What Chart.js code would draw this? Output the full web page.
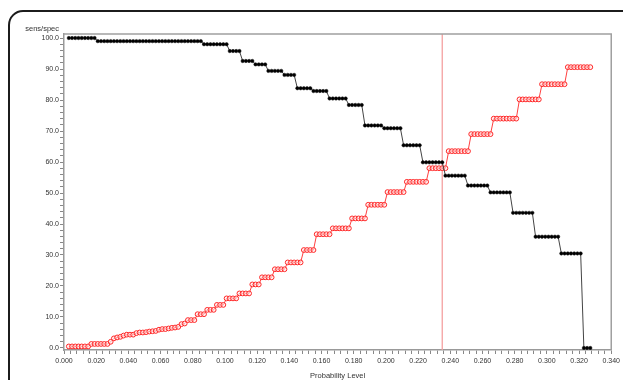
<!DOCTYPE html>
<html>
<head>
<meta charset="utf-8">
<script src="https://cdn.jsdelivr.net/npm/chart.js@4.4.0/dist/chart.umd.min.js"></script>
<style>
  html, body { margin: 0; padding: 0; background: #fff; }
  #wrap { position: relative; width: 623px; height: 380px; overflow: hidden; }
  #frame { position: absolute; left: 8px; top: 10px; width: 640px; height: 420px;
           border: 2px solid #1c1c1c; border-radius: 15px; pointer-events: none; }
  canvas { position: absolute; left: 0; top: 0; }
</style>
</head>
<body>
<div id="wrap">
  <canvas id="chart-area" width="623" height="380"></canvas>
  <div id="frame"></div>
</div>
<script>
// probability levels (x) shared by both curves
var probLevels = [
  0.003,0.005,0.007,0.009,0.011,0.013,0.015,0.017,0.019,0.021,
  0.023,0.025,0.027,0.029,0.031,0.033,0.035,0.037,0.039,0.041,
  0.043,0.045,0.047,0.049,0.051,0.053,0.055,0.057,0.059,0.061,
  0.063,0.065,0.067,0.069,0.071,0.073,0.075,0.077,0.079,0.081,
  0.083,0.085,0.087,0.089,0.091,0.093,0.095,0.097,0.099,0.101,
  0.103,0.105,0.107,0.109,0.111,0.113,0.115,0.117,0.119,0.121,
  0.123,0.125,0.127,0.129,0.131,0.133,0.135,0.137,0.139,0.141,
  0.143,0.145,0.147,0.149,0.151,0.153,0.155,0.157,0.159,0.161,
  0.163,0.165,0.167,0.169,0.171,0.173,0.175,0.177,0.179,0.181,
  0.183,0.185,0.187,0.189,0.191,0.193,0.195,0.197,0.199,0.201,
  0.203,0.205,0.207,0.209,0.211,0.213,0.215,0.217,0.219,0.221,
  0.223,0.225,0.227,0.229,0.231,0.233,0.235,0.237,0.239,0.241,
  0.243,0.245,0.247,0.249,0.251,0.253,0.255,0.257,0.259,0.261,
  0.263,0.265,0.267,0.269,0.271,0.273,0.275,0.277,0.279,0.281,
  0.283,0.285,0.287,0.289,0.291,0.293,0.295,0.297,0.299,0.301,
  0.303,0.305,0.307,0.309,0.311,0.313,0.315,0.317,0.319,0.321,
  0.323,0.325,0.327
];

// black curve
var sensitivity = [
  100,100,100,100,100,100,100,100,100,99,
  99,99,99,99,99,99,99,99,99,99,
  99,99,99,99,99,99,99,99,99,99,
  99,99,99,99,99,99,99,99,99,99,
  99,99,98,98,98,98,98,98,98,98,
  95.8,95.8,95.8,95.8,92.6,92.6,92.6,92.6,91.5,91.5,
  91.5,91.5,89.4,89.4,89.4,89.4,89.4,88.1,88.1,88.1,
  88.1,83.8,83.8,83.8,83.8,83.8,82.9,82.9,82.9,82.9,
  82.9,80.5,80.5,80.5,80.5,80.5,80.5,78.4,78.4,78.4,
  78.4,78.4,71.8,71.8,71.8,71.8,71.8,71.8,70.9,70.9,
  70.9,70.9,70.9,70.9,65.4,65.4,65.4,65.4,65.4,65.4,
  59.9,59.9,59.9,59.9,59.9,59.9,59.9,55.6,55.6,55.6,
  55.6,55.6,55.6,55.6,52.4,52.4,52.4,52.4,52.4,52.4,
  52.4,50.2,50.2,50.2,50.2,50.2,50.2,50.2,43.6,43.6,
  43.6,43.6,43.6,43.6,43.6,35.9,35.9,35.9,35.9,35.9,
  35.9,35.9,35.9,30.5,30.5,30.5,30.5,30.5,30.5,30.5,
  0,0,0
];

// red curve
var specificity = [
  0.5,0.5,0.5,0.5,0.5,0.5,0.5,1.3,1.3,1.3,
  1.3,1.3,1.3,2.0,3.1,3.4,3.6,4.0,4.3,4.3,
  4.3,4.8,5.0,5.0,5.1,5.3,5.4,5.5,5.9,6.1,
  6.1,6.3,6.5,6.6,6.8,7.7,7.9,9.0,9.0,9.0,
  10.9,10.9,10.9,12.3,12.3,12.3,13.9,13.9,13.9,16.0,
  16.0,16.0,16.0,17.6,17.6,17.6,17.6,20.5,20.5,20.5,
  22.8,22.8,22.8,22.8,25.4,25.4,25.4,25.4,27.6,27.6,
  27.6,27.6,27.6,31.6,31.6,31.6,31.6,36.7,36.7,36.7,
  36.7,36.7,38.6,38.6,38.6,38.6,38.6,38.6,41.8,41.8,
  41.8,41.8,41.8,46.2,46.2,46.2,46.2,46.2,46.2,50.3,
  50.3,50.3,50.3,50.3,50.3,53.6,53.6,53.6,53.6,53.6,
  53.6,53.6,58.0,58.0,58.0,58.0,58.0,58.0,63.5,63.5,
  63.5,63.5,63.5,63.5,63.5,69.0,69.0,69.0,69.0,69.0,
  69.0,69.0,74.0,74.0,74.0,74.0,74.0,74.0,74.0,74.0,
  80.2,80.2,80.2,80.2,80.2,80.2,80.2,85.1,85.1,85.1,
  85.1,85.1,85.1,85.1,85.1,90.6,90.6,90.6,90.6,90.6,
  90.6,90.6,90.6
];

var cutoff = 0.235;

var xTickLabels = ['0.000','0.020','0.040','0.060','0.080','0.100','0.120','0.140','0.160',
  '0.180','0.200','0.220','0.240','0.260','0.280','0.300','0.320','0.340'];
var yTickLabels = ['0.0','10.0','20.0','30.0','40.0','50.0','60.0','70.0','80.0','90.0','100.0'];

var yMin = -0.65, yMax = 101.3;

function pts(ys) {
  return probLevels.map(function (p, i) { return { x: p, y: ys[i] }; });
}

// frame round the plot area + y title
var plotFrame = {
  id: 'plotFrame',
  afterDraw: function (chart) {
    var a = chart.chartArea, ctx = chart.ctx;
    ctx.save();
    ctx.strokeStyle = '#a0a0a0';
    ctx.lineWidth = 1.5;
    ctx.beginPath();
    ctx.moveTo(a.left, a.top);
    ctx.lineTo(a.right, a.top);
    ctx.lineTo(a.right, a.bottom);
    ctx.stroke();
    ctx.fillStyle = '#333';
    ctx.font = '7.5px "Liberation Sans", Arial, sans-serif';
    ctx.textAlign = 'right';
    ctx.textBaseline = 'middle';
    ctx.fillText('sens/spec', a.left - 5, a.top - 5);
    ctx.restore();
  }
};

var ctx = document.getElementById('chart-area');
var myChart = new Chart(ctx, {
  type: 'line',
  data: {
    datasets: [
      {
        label: 'sensitivity',
        data: pts(sensitivity),
        borderColor: '#444',
        borderWidth: 1,
        pointRadius: 1.7,
        pointBackgroundColor: '#000',
        pointBorderColor: '#111',
        pointBorderWidth: 0.5
      },
      {
        label: 'specificity',
        data: pts(specificity),
        borderColor: '#ff4040',
        borderWidth: 1,
        pointRadius: 2.4,
        pointBackgroundColor: 'rgba(255,235,235,0.6)',
        pointBorderColor: '#ff2828',
        pointBorderWidth: 1
      },
      {
        label: 'cutoff',
        data: [{ x: cutoff, y: yMin }, { x: cutoff, y: yMax }],
        borderColor: '#f4a0a0',
        borderWidth: 1.3,
        pointRadius: 0
      }
    ]
  },
  options: {
    responsive: false,
    animation: false,
    devicePixelRatio: 1,
    layout: { padding: { top: 34, right: 10, left: 0, bottom: 0 } },
    plugins: { legend: { display: false }, tooltip: { enabled: false } },
    scales: {
      x: {
        type: 'linear',
        min: 0,
        max: 0.34,
        afterFit: function (s) { s.height = 30; },
        border: { color: '#999', width: 1.5 },
        grid: { drawOnChartArea: false, tickLength: 4, tickColor: '#888' },
        ticks: {
          stepSize: 0.004,
          autoSkip: false,
          includeBounds: false,
          maxRotation: 0,
          padding: 3,
          color: '#333',
          font: { family: '"Liberation Sans", Arial, sans-serif', size: 7 },
          callback: function (v) {
            var k = v / 0.02;
            if (Math.abs(k - Math.round(k)) < 1e-6) return xTickLabels[Math.round(k)];
            return '';
          }
        },
        title: {
          display: true,
          text: 'Probability Level',
          color: '#333',
          padding: { top: 0, bottom: 0 },
          font: { family: '"Liberation Sans", Arial, sans-serif', size: 7.5 }
        }
      },
      y: {
        min: yMin,
        max: yMax,
        afterFit: function (s) { s.width = 64; },
        border: { color: '#999', width: 1.5 },
        grid: { drawOnChartArea: false, tickLength: 4, tickColor: '#888' },
        ticks: {
          stepSize: 2,
          autoSkip: false,
          includeBounds: false,
          padding: 1,
          color: '#333',
          font: { family: '"Liberation Sans", Arial, sans-serif', size: 7 },
          callback: function (v) {
            var k = v / 10;
            if (Math.abs(k - Math.round(k)) < 1e-6) return yTickLabels[Math.round(k)];
            return '';
          }
        }
      }
    }
  },
  plugins: [plotFrame]
});
</script>
</body>
</html>
